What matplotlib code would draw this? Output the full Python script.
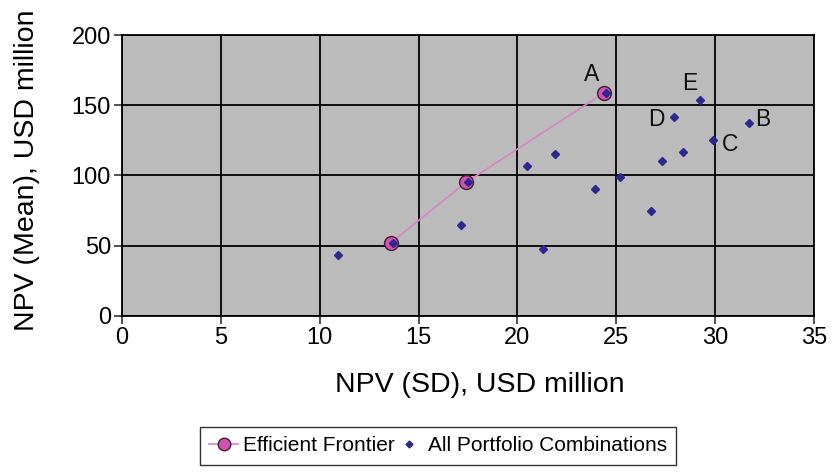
import matplotlib
matplotlib.use("Agg")
import matplotlib.pyplot as plt
from matplotlib.lines import Line2D

plt.rcParams['font.family'] = ['Liberation Sans', 'DejaVu Sans']

# Efficient frontier points (SD, Mean)
ef_sd = [13.6, 17.4, 24.4]
ef_mean = [52, 95, 159]

# All portfolio combinations (SD, Mean)
all_sd = [10.9, 13.7, 17.15, 17.5, 20.5, 21.9, 21.3, 23.9, 25.2, 26.75, 27.3, 28.35,
          27.9, 29.25, 29.9, 31.7, 24.5]
all_mean = [43, 52, 65, 95, 107, 115.5, 47.5, 90, 99, 74.5, 110.5, 116.5,
            141.5, 154, 125.5, 137.5, 159]

# Point labels
lab_text = ['A', 'B', 'C', 'D', 'E']
lab_sd = [24.4, 31.7, 29.9, 27.9, 29.25]
lab_mean = [159, 137.5, 125.5, 141.5, 154]
lab_dx = [-9.6, 10.3, 12.5, -12.5, -7.7]
lab_dy = [12.7, 2.4, -3.6, -1.7, 11.5]

xticks = [0, 5, 10, 15, 20, 25, 30, 35]
yticks = [0, 50, 100, 150, 200]

fig = plt.figure(figsize=(8.34, 4.72), dpi=100)
ax = fig.add_axes([0.1463, 0.331, 0.8297, 0.5948])
ax.set_facecolor('#bbbbbb')

ax.plot(ef_sd, ef_mean, color='#d883c6', lw=1.2, zorder=3,
        marker='o', markersize=10, markerfacecolor='#d650b4',
        markeredgecolor='#3a2030', markeredgewidth=1.0)
ax.plot(all_sd, all_mean, linestyle='none', marker='D', markersize=4.3,
        color='#2b2a8c', zorder=4)

for t, x, y, dx, dy in zip(lab_text, lab_sd, lab_mean, lab_dx, lab_dy):
    ax.annotate(t, (x, y), xytext=(dx, dy), textcoords='offset points',
                ha='center', va='center', fontsize=16.5, color='#111111')

ax.set_xlim(0, 35)
ax.set_ylim(0, 200)
ax.set_xticks(xticks)
ax.set_yticks(yticks)
ax.grid(True, color='black', lw=1.3)
ax.set_axisbelow(True)
for s in ax.spines.values():
    s.set_color('black')
    s.set_linewidth(1.3)
ax.tick_params(labelsize=17, length=6, width=1.2, color='#333333', pad=2)
ax.set_xlabel('NPV (SD), USD million', fontsize=20.5)
ax.set_ylabel('NPV (Mean), USD million', fontsize=20.5)
ax.xaxis.set_label_coords(0.517, -0.2)
ax.yaxis.set_label_coords(-0.118, 0.519)

h1 = Line2D([], [], color='#d883c6', lw=1.2, marker='o', markersize=9,
            markerfacecolor='#d650b4', markeredgecolor='#3a2030')
h2 = Line2D([], [], linestyle='none', marker='D', markersize=3.5, color='#2b2a8c')
leg = fig.legend([h1, h2], ['Efficient Frontier', 'All Portfolio Combinations'],
                 loc='upper center', bbox_to_anchor=(438 / 834, 1 - 427 / 472),
                 bbox_transform=fig.transFigure, ncol=2, fontsize=15,
                 frameon=True, fancybox=False, edgecolor='black',
                 handlelength=1.4, handletextpad=0.2, columnspacing=0.0,
                 borderpad=0.45, borderaxespad=0)
leg.get_frame().set_linewidth(1.0)

fig.savefig('out.png', dpi=100)
